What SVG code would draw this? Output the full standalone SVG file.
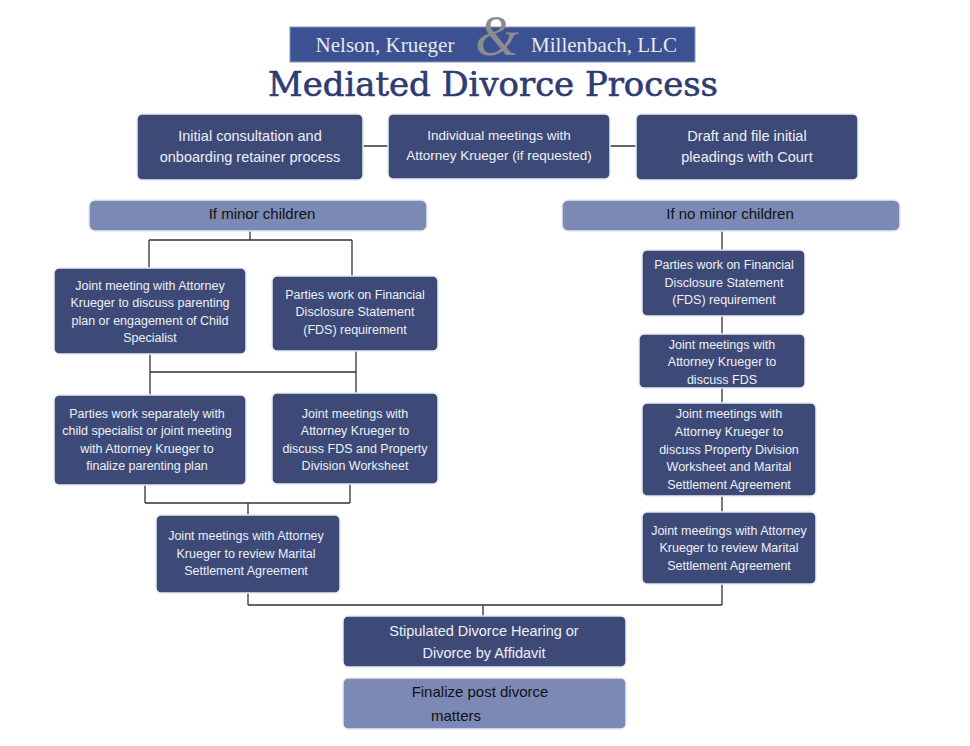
<svg xmlns="http://www.w3.org/2000/svg" width="970" height="746" viewBox="0 0 970 746">
<style>
.d{fill:#3d4a78;stroke:#e8eaf2;stroke-width:1.5}
.l{fill:#7b89b4;stroke:#e8eaf2;stroke-width:1.5}
.t{font-family:"Liberation Sans",Arial,sans-serif;fill:#eef0f6;text-anchor:middle}
.s{font-size:12.5px}
.m{font-size:14.5px}
.k{fill:#111;font-size:15px}
#connectors path{fill:none;stroke:#333;stroke-width:1.3}
</style>
<rect width="970" height="746" fill="#fff"/>
<g id="logo">
<rect x="290" y="27" width="405" height="35" fill="#3b5191" stroke="#8a95b8"/>
<text x="385" y="52" font-family="Liberation Serif,serif" font-size="21" fill="#e6e8f0" text-anchor="middle">Nelson, Krueger</text>
<text x="604" y="52" font-family="Liberation Serif,serif" font-size="21" fill="#e6e8f0" text-anchor="middle">Millenbach, LLC</text>
<text x="497" y="55" font-family="Liberation Serif,serif" font-style="italic" font-size="56" fill="#8c8c90" text-anchor="middle">&amp;</text>
</g>
<text x="493" y="96" font-family="DejaVu Serif,serif" font-size="33" fill="#2e3c72" stroke="#2e3c72" stroke-width="0.6" text-anchor="middle" textLength="450" lengthAdjust="spacingAndGlyphs">Mediated Divorce Process</text>
<g id="connectors">
<path d="M363 146H388M610 146H636"/>
<path d="M250 231V240M149 240H352M149 240V268M352 240V276"/>
<path d="M150 354V372M356 351V393M150 372H356M150 372V395"/>
<path d="M145 485V503M350 484V503M145 503H350M248 503V515"/>
<path d="M722 231V250M722 316V334M722 388V403M722 496V512"/>
<path d="M248 593V605M722 584V605M248 605H722M483 605V616"/>
</g>
<g id="n1"><rect class="d" x="137" y="114" width="226" height="66" rx="5"/><text class="t m" x="250" y="141">Initial consultation and</text><text class="t m" x="250" y="162">onboarding retainer process</text></g>
<g id="n2"><rect class="d" x="388" y="114" width="222" height="65" rx="5"/><text class="t" x="499" y="140" font-size="13.5">Individual meetings with</text><text class="t" x="499" y="160" font-size="13.5">Attorney Krueger (if requested)</text></g>
<g id="n3"><rect class="d" x="636" y="114" width="222" height="66" rx="5"/><text class="t m" x="747" y="141">Draft and file initial</text><text class="t m" x="747" y="162">pleadings with Court</text></g>
<g id="minor"><rect class="l" x="89" y="200" width="338" height="31" rx="6"/><text class="t k" x="262" y="219">If minor children</text></g>
<g id="nominor"><rect class="l" x="562" y="200" width="338" height="31" rx="6"/><text class="t k" x="730" y="219">If no minor children</text></g>
<g id="l1"><rect class="d" x="54" y="268" width="192" height="86" rx="5"/><text class="t s" x="150" y="290">Joint meeting with Attorney</text><text class="t s" x="150" y="307">Krueger to discuss parenting</text><text class="t s" x="150" y="325">plan or engagement of Child</text><text class="t s" x="150" y="342">Specialist</text></g>
<g id="l2"><rect class="d" x="272" y="276" width="166" height="75" rx="5"/><text class="t s" x="355" y="299">Parties work on Financial</text><text class="t s" x="355" y="316">Disclosure Statement</text><text class="t s" x="355" y="334">(FDS) requirement</text></g>
<g id="l3"><rect class="d" x="54" y="395" width="192" height="90" rx="5"/><text class="t s" x="147" y="418">Parties work separately with</text><text class="t s" x="147" y="435">child specialist or joint meeting</text><text class="t s" x="147" y="453">with Attorney Krueger to</text><text class="t s" x="147" y="470">finalize parenting plan</text></g>
<g id="l4"><rect class="d" x="272" y="393" width="166" height="91" rx="5"/><text class="t s" x="355" y="418">Joint meetings with</text><text class="t s" x="355" y="435">Attorney Krueger to</text><text class="t s" x="355" y="453">discuss FDS and Property</text><text class="t s" x="355" y="470">Division Worksheet</text></g>
<g id="l5"><rect class="d" x="156" y="515" width="184" height="78" rx="5"/><text class="t s" x="246" y="540">Joint meetings with Attorney</text><text class="t s" x="246" y="558">Krueger to review Marital</text><text class="t s" x="246" y="575">Settlement Agreement</text></g>
<g id="r1"><rect class="d" x="642" y="250" width="163" height="66" rx="5"/><text class="t s" x="724" y="269">Parties work on Financial</text><text class="t s" x="724" y="287">Disclosure Statement</text><text class="t s" x="724" y="304">(FDS) requirement</text></g>
<g id="r2"><rect class="d" x="639" y="334" width="166" height="54" rx="5"/><text class="t s" x="722" y="349">Joint meetings with</text><text class="t s" x="722" y="366">Attorney Krueger to</text><text class="t s" x="722" y="384">discuss FDS</text></g>
<g id="r3"><rect class="d" x="642" y="403" width="174" height="93" rx="5"/><text class="t s" x="729" y="418">Joint meetings with</text><text class="t s" x="729" y="436">Attorney Krueger to</text><text class="t s" x="729" y="454">discuss Property Division</text><text class="t s" x="729" y="471">Worksheet and Marital</text><text class="t s" x="729" y="489">Settlement Agreement</text></g>
<g id="r4"><rect class="d" x="642" y="512" width="174" height="72" rx="5"/><text class="t s" x="729" y="535">Joint meetings with Attorney</text><text class="t s" x="729" y="552">Krueger to review Marital</text><text class="t s" x="729" y="570">Settlement Agreement</text></g>
<g id="hearing"><rect class="d" x="343" y="616" width="283" height="51" rx="5"/><text class="t m" x="484" y="636" font-size="15">Stipulated Divorce Hearing or</text><text class="t m" x="484" y="658" font-size="15">Divorce by Affidavit</text></g>
<g id="final"><rect class="l" x="343" y="678" width="283" height="51" rx="5"/><text class="t k" x="480" y="697" font-size="16">Finalize post divorce</text><text class="t k" x="456" y="721" font-size="16">matters</text></g>
</svg>
